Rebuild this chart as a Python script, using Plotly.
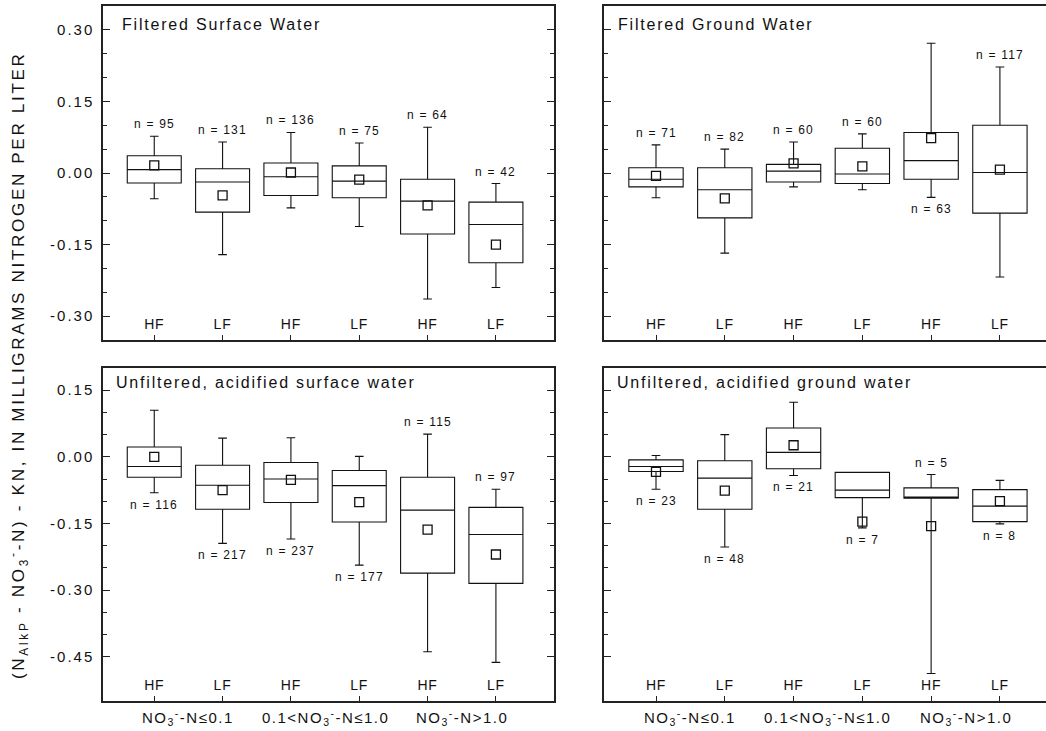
import plotly.graph_objects as go

W, H = 1046, 731
FONT = "Arial, Liberation Sans, sans-serif"

# ---- categories / ticks ----
positions = [1, 2, 3, 4, 5, 6]
flow_labels = ["HF", "LF", "HF", "LF", "HF", "LF"]
group_positions = [1.5, 3.5, 5.5]
group_labels = ["NO<sub>3</sub><sup>-</sup>-N≤0.1",
                "0.1<NO<sub>3</sub><sup>-</sup>-N≤1.0",
                "NO<sub>3</sub><sup>-</sup>-N>1.0"]
top_yticks = [0.30, 0.15, 0.0, -0.15, -0.30]
top_yticktext = ["0.30", "0.15", "0.00", "-0.15", "-0.30"]
bot_yticks = [0.15, 0.0, -0.15, -0.30, -0.45]
bot_yticktext = ["0.15", "0.00", "-0.15", "-0.30", "-0.45"]
y_title = "(N<sub>AlkP</sub> - NO<sub>3</sub><sup>-</sup>-N) - KN, IN MILLIGRAMS NITROGEN PER LITER"

# ---- Filtered surface water ----
fsw_upper = [0.077, 0.065, 0.085, 0.063, 0.096, -0.022]
fsw_q3 = [0.036, 0.009, 0.021, 0.015, -0.013, -0.061]
fsw_median = [0.007, -0.019, -0.008, -0.017, -0.059, -0.108]
fsw_q1 = [-0.021, -0.082, -0.047, -0.052, -0.128, -0.188]
fsw_lower = [-0.054, -0.171, -0.073, -0.112, -0.264, -0.240]
fsw_mean = [0.016, -0.047, 0.001, -0.014, -0.068, -0.150]
fsw_n = [95, 131, 136, 75, 64, 42]
fsw_npos = ["above", "above", "above", "above", "above", "above"]

# ---- Filtered ground water ----
fgw_upper = [0.059, 0.050, 0.065, 0.082, 0.272, 0.222]
fgw_q3 = [0.011, 0.011, 0.018, 0.052, 0.085, 0.100]
fgw_median = [-0.013, -0.035, 0.004, -0.002, 0.026, 0.001]
fgw_q1 = [-0.029, -0.094, -0.019, -0.022, -0.013, -0.084]
fgw_lower = [-0.052, -0.168, -0.029, -0.035, -0.051, -0.218]
fgw_mean = [-0.006, -0.053, 0.020, 0.014, 0.073, 0.007]
fgw_n = [71, 82, 60, 60, 63, 117]
fgw_npos = ["above", "above", "above", "above", "below", "above"]

# ---- Unfiltered, acidified surface water ----
usw_upper = [0.105, 0.042, 0.043, 0.001, 0.051, -0.073]
usw_q3 = [0.022, -0.019, -0.013, -0.031, -0.046, -0.114]
usw_median = [-0.022, -0.064, -0.050, -0.065, -0.120, -0.175]
usw_q1 = [-0.046, -0.118, -0.103, -0.147, -0.262, -0.285]
usw_lower = [-0.081, -0.195, -0.185, -0.244, -0.439, -0.463]
usw_mean = [0.000, -0.075, -0.052, -0.102, -0.164, -0.220]
usw_n = [116, 217, 237, 177, 115, 97]
usw_npos = ["below", "below", "below", "below", "above", "above"]

# ---- Unfiltered, acidified ground water ----
ugw_upper = [0.003, 0.050, 0.123, -0.035, -0.040, -0.053]
ugw_q3 = [-0.007, -0.009, 0.065, -0.035, -0.070, -0.074]
ugw_median = [-0.022, -0.048, 0.010, -0.075, -0.092, -0.111]
ugw_q1 = [-0.033, -0.118, -0.027, -0.092, -0.093, -0.146]
ugw_lower = [-0.073, -0.203, -0.042, -0.160, -0.488, -0.151]
ugw_mean = [-0.034, -0.076, 0.026, -0.146, -0.156, -0.100]
ugw_n = [23, 48, 21, 7, 5, 8]
ugw_npos = ["below", "below", "below", "below", "above", "below"]

panels = [
    dict(title="Filtered Surface Water", xa="x", ya="y",
         upper=fsw_upper, q3=fsw_q3, med=fsw_median, q1=fsw_q1, lower=fsw_lower,
         mean=fsw_mean, n=fsw_n, npos=fsw_npos),
    dict(title="Filtered Ground Water", xa="x2", ya="y2",
         upper=fgw_upper, q3=fgw_q3, med=fgw_median, q1=fgw_q1, lower=fgw_lower,
         mean=fgw_mean, n=fgw_n, npos=fgw_npos),
    dict(title="Unfiltered, acidified surface water", xa="x3", ya="y3",
         upper=usw_upper, q3=usw_q3, med=usw_median, q1=usw_q1, lower=usw_lower,
         mean=usw_mean, n=usw_n, npos=usw_npos),
    dict(title="Unfiltered, acidified ground water", xa="x4", ya="y4",
         upper=ugw_upper, q3=ugw_q3, med=ugw_median, q1=ugw_q1, lower=ugw_lower,
         mean=ugw_mean, n=ugw_n, npos=ugw_npos),
]


def spaced(text, px):
    return f"<span style='letter-spacing:{px}px'>{text}</span>"


fig = go.Figure()
annotations = []

for p in panels:
    fig.add_trace(go.Box(
        x=positions, q1=p["q1"], median=p["med"], q3=p["q3"],
        lowerfence=p["lower"], upperfence=p["upper"],
        width=0.79, whiskerwidth=0.16, boxpoints=False,
        line=dict(color="#111111", width=1.1), fillcolor="rgba(0,0,0,0)",
        xaxis=p["xa"], yaxis=p["ya"], hoverinfo="skip"))
    fig.add_trace(go.Scatter(
        x=positions, y=p["mean"], mode="markers",
        marker=dict(symbol="square-open", size=9, color="#111111",
                    line=dict(width=1.3, color="#111111")),
        xaxis=p["xa"], yaxis=p["ya"], hoverinfo="skip"))
    for xi, nv, pos, up, lo in zip(positions, p["n"], p["npos"], p["upper"], p["lower"]):
        above = pos == "above"
        annotations.append(dict(
            x=xi, y=up if above else lo, xref=p["xa"], yref=p["ya"],
            text=spaced(f"n = {nv}", 1.2), showarrow=False, yanchor="middle",
            yshift=12 if above else -12,
            font=dict(family=FONT, size=12, color="#111111")))

# panel titles (centre pixel positions)
title_pos = [(221, 24), (716, 24), (266, 383), (764, 383)]
for p, (px, py) in zip(panels, title_pos):
    annotations.append(dict(
        x=px / W, y=1 - py / H, xref="paper", yref="paper", xanchor="center",
        yanchor="middle", text=spaced(p["title"], 1.8), showarrow=False,
        font=dict(family=FONT, size=16, color="#111111")))

# group labels under bottom panels
for xa in ["x3", "x4"]:
    for gx, gl in zip(group_positions, group_labels):
        annotations.append(dict(
            x=gx, y=1 - 717 / H, xref=xa, yref="paper", yanchor="middle",
            text=spaced(gl, 1.5), showarrow=False,
            font=dict(family=FONT, size=15, color="#111111")))

# y-axis title
annotations.append(dict(
    x=18 / W, y=1 - 366 / H, xref="paper", yref="paper", textangle=-90,
    xanchor="center", yanchor="middle", showarrow=False,
    text=spaced(y_title, 2.7),
    font=dict(family=FONT, size=17, color="#111111")))

LINE = dict(showline=True, linecolor="#222222", linewidth=1.5, showgrid=False,
            zeroline=False)


def xaxis(dom, rng, anchor):
    return dict(domain=dom, range=rng, anchor=anchor, tickvals=positions,
                ticktext=[spaced(t, 0.8) for t in flow_labels],
                ticks="inside", ticklen=5, ticklabelstandoff=3,
                tickcolor="#222222", ticklabelposition="inside", mirror=True,
                tickfont=dict(family=FONT, size=14, color="#111111"), **LINE)


def yaxis(dom, rng, anchor, tv, tt, labels, mirror):
    return dict(domain=dom, range=rng, anchor=anchor, tickvals=tv,
                ticktext=[spaced(t, 2.0) for t in tt],
                ticks="inside", ticklen=7, tickcolor="#222222",
                showticklabels=labels, mirror=mirror, ticklabelstandoff=4,
                ticklabeloverflow="allow",
                minor=dict(dtick=0.05, tick0=0, ticks="inside", ticklen=4,
                           tickcolor="#222222"),
                tickfont=dict(family=FONT, size=15, color="#111111"), **LINE)


xl = [103 / W, 554 / W]
xr = [604 / W, 1.0]
yt = [1 - 340 / H, 1 - 6 / H]
yb = [1 - 701 / H, 1 - 368 / H]
rl = [0.25, 6.85]
rr = [0.244, 6.67]

fig.update_layout(
    width=W, height=H,
    margin=dict(l=0, r=0, t=0, b=0, autoexpand=False),
    paper_bgcolor="white", plot_bgcolor="white", showlegend=False,
    hovermode=False,
    xaxis=xaxis(xl, rl, "y"),
    yaxis=yaxis(yt, [-0.35, 0.35], "x", top_yticks, top_yticktext, True, "ticks"),
    xaxis2=xaxis(xr, rr, "y2"),
    yaxis2=yaxis(yt, [-0.35, 0.35], "x2", top_yticks, top_yticktext, False, False),
    xaxis3=xaxis(xl, rl, "y3"),
    yaxis3=yaxis(yb, [-0.55, 0.20], "x3", bot_yticks, bot_yticktext, True, "ticks"),
    xaxis4=xaxis(xr, rr, "y4"),
    yaxis4=yaxis(yb, [-0.55, 0.20], "x4", bot_yticks, bot_yticktext, False, False),
    annotations=annotations,
)

fig.write_html("out.html", config={"displayModeBar": False},
               post_script="document.body.style.margin='0px';document.body.style.overflow='hidden';")
